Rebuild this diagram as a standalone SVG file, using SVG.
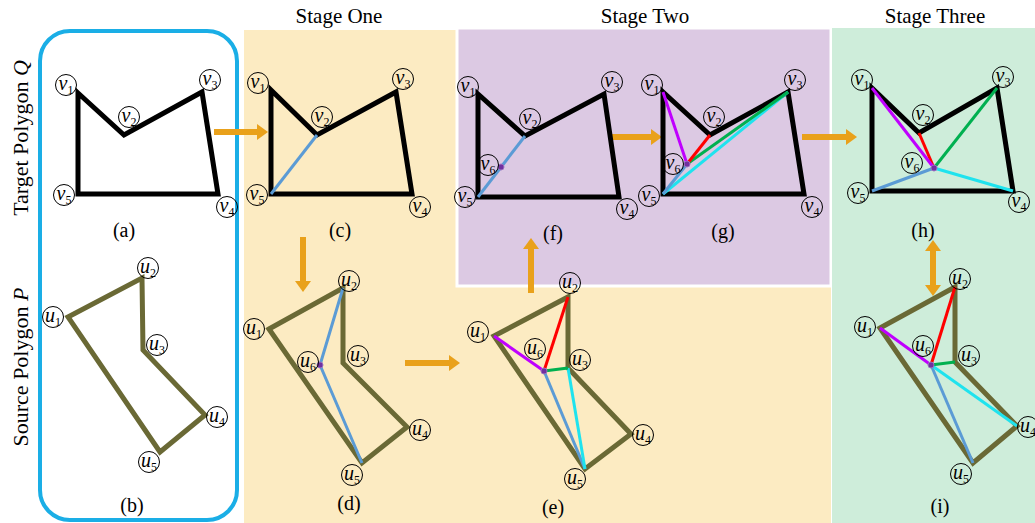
<svg xmlns="http://www.w3.org/2000/svg" width="1035" height="523" viewBox="0 0 1035 523">
<defs>
<style>
.tg{fill:none;stroke:#000;stroke-width:5;stroke-linejoin:miter}
.sp{fill:none;stroke:#6A6935;stroke-width:5;stroke-linejoin:miter}
.ln{stroke-width:3;stroke-linecap:butt;fill:none}
.bl{stroke:#5B9BD5}.rd{stroke:#FF0000}.gr{stroke:#00B050}.mg{stroke:#BF00FF}.cy{stroke:#1FE3EE}
.dot{fill:#7030A0;stroke:#9A6FC0;stroke-width:1}
.lc{fill:none;stroke:#000;stroke-width:1}
.lt{font-family:"Liberation Serif",serif;font-size:20px;font-style:italic;text-anchor:middle;fill:#000}
.sub{font-size:12px;font-style:normal}
.cap{font-family:"Liberation Serif",serif;font-size:20px;text-anchor:middle;fill:#000}
.ttl{font-family:"Liberation Serif",serif;font-size:21px;text-anchor:middle;fill:#000}
.side{font-family:"Liberation Serif",serif;font-size:22px;text-anchor:middle;fill:#000}
.arr{stroke:#E9A11B;stroke-width:6;fill:none}
</style>
<marker id="ah" markerUnits="userSpaceOnUse" markerWidth="12" markerHeight="18" refX="1" refY="9" orient="auto-start-reverse">
<path d="M1,1 L12,9 L1,17 Z" fill="#E9A11B"/>
</marker>
</defs>

<!-- backgrounds -->
<g id="backgrounds">
<rect x="244" y="30" width="587" height="493" fill="#FCEBC2"/>
<rect x="457" y="28" width="374" height="258" fill="#DCC9E3" stroke="#FFFFFF" stroke-width="3"/>
<rect x="832" y="28" width="203" height="495" fill="#CEEDDA"/>
<rect x="40" y="31" width="197" height="489" rx="30" ry="30" fill="none" stroke="#1AAEE6" stroke-width="4"/>
</g>

<g id="titles">
<text class="ttl" x="339" y="23">Stage One</text>
<text class="ttl" x="645" y="23">Stage Two</text>
<text class="ttl" x="935" y="23">Stage Three</text>
<text class="side" transform="translate(28,138) rotate(-90)">Target Polygon <tspan font-style="italic">Q</tspan></text>
<text class="side" transform="translate(28,367) rotate(-90)">Source Polygon <tspan font-style="italic">P</tspan></text>
</g>

<!-- connectors -->
<g id="connectors">
<line class="arr" x1="214" y1="132" x2="257" y2="132" marker-end="url(#ah)"/>
<line class="arr" x1="303" y1="237" x2="303" y2="281" marker-end="url(#ah)"/>
<line class="arr" x1="405" y1="363" x2="449" y2="363" marker-end="url(#ah)"/>
<line class="arr" x1="531" y1="293" x2="531" y2="249" marker-end="url(#ah)"/>
<line class="arr" x1="612" y1="137" x2="651" y2="137" marker-end="url(#ah)"/>
<line class="arr" x1="802" y1="137" x2="846" y2="137" marker-end="url(#ah)"/>
<line class="arr" x1="933" y1="251" x2="933" y2="285" marker-start="url(#ah)" marker-end="url(#ah)"/>
</g>

<!-- (a) -->
<g id="node-a">
<polygon class="tg" points="78,93 124,135 202,92 218,194 78,194"/>
<circle class="lc" cx="66" cy="85" r="10.5"/><text class="lt" x="66" y="90">v<tspan class="sub" dy="4">1</tspan></text>
<circle class="lc" cx="129" cy="117" r="10.5"/><text class="lt" x="129" y="122">v<tspan class="sub" dy="4">2</tspan></text>
<circle class="lc" cx="210" cy="80" r="10.5"/><text class="lt" x="210" y="85">v<tspan class="sub" dy="4">3</tspan></text>
<circle class="lc" cx="227" cy="207" r="10.5"/><text class="lt" x="227" y="212">v<tspan class="sub" dy="4">4</tspan></text>
<circle class="lc" cx="64" cy="195" r="10.5"/><text class="lt" x="64" y="200">v<tspan class="sub" dy="4">5</tspan></text>
<text class="cap" x="124" y="237">(a)</text>
</g>

<!-- (b) -->
<g id="node-b">
<polygon class="sp" points="68,317 142,278 143,350 205,415 160,452"/>
<circle class="lc" cx="53" cy="317" r="10.5"/><text class="lt" x="53" y="322">u<tspan class="sub" dy="4">1</tspan></text>
<circle class="lc" cx="148" cy="268" r="10.5"/><text class="lt" x="148" y="273">u<tspan class="sub" dy="4">2</tspan></text>
<circle class="lc" cx="157" cy="345" r="10.5"/><text class="lt" x="157" y="350">u<tspan class="sub" dy="4">3</tspan></text>
<circle class="lc" cx="217" cy="417" r="10.5"/><text class="lt" x="217" y="422">u<tspan class="sub" dy="4">4</tspan></text>
<circle class="lc" cx="149" cy="462" r="10.5"/><text class="lt" x="149" y="467">u<tspan class="sub" dy="4">5</tspan></text>
<text class="cap" x="132" y="512">(b)</text>
</g>

<!-- (c) -->
<g id="node-c">
<polygon class="tg" points="271,90 317,135 396,92 412,194 271,194"/>
<line class="ln bl" x1="271" y1="194" x2="317" y2="135"/>
<circle class="lc" cx="258" cy="83" r="10.5"/><text class="lt" x="258" y="88">v<tspan class="sub" dy="4">1</tspan></text>
<circle class="lc" cx="322" cy="117" r="10.5"/><text class="lt" x="322" y="122">v<tspan class="sub" dy="4">2</tspan></text>
<circle class="lc" cx="403" cy="79" r="10.5"/><text class="lt" x="403" y="84">v<tspan class="sub" dy="4">3</tspan></text>
<circle class="lc" cx="420" cy="207" r="10.5"/><text class="lt" x="420" y="212">v<tspan class="sub" dy="4">4</tspan></text>
<circle class="lc" cx="257" cy="195" r="10.5"/><text class="lt" x="257" y="200">v<tspan class="sub" dy="4">5</tspan></text>
<text class="cap" x="340" y="237">(c)</text>
</g>

<!-- (d) -->
<g id="node-d">
<polygon class="sp" points="269,329 343,288 343,363 407,427 362,463"/>
<polyline class="ln bl" points="343,288 320,365 362,463"/>
<circle class="dot" cx="320" cy="365" r="3"/>
<circle class="lc" cx="254" cy="329" r="10.5"/><text class="lt" x="254" y="334">u<tspan class="sub" dy="4">1</tspan></text>
<circle class="lc" cx="349" cy="281" r="10.5"/><text class="lt" x="349" y="286">u<tspan class="sub" dy="4">2</tspan></text>
<circle class="lc" cx="358" cy="356" r="10.5"/><text class="lt" x="358" y="361">u<tspan class="sub" dy="4">3</tspan></text>
<circle class="lc" cx="420" cy="430" r="10.5"/><text class="lt" x="420" y="435">u<tspan class="sub" dy="4">4</tspan></text>
<circle class="lc" cx="352" cy="475" r="10.5"/><text class="lt" x="352" y="480">u<tspan class="sub" dy="4">5</tspan></text>
<circle class="lc" cx="308" cy="362" r="10.5"/><text class="lt" x="308" y="367">u<tspan class="sub" dy="4">6</tspan></text>
<text class="cap" x="349" y="510">(d)</text>
</g>

<!-- (e) -->
<g id="node-e">
<polygon class="sp" points="494,336 568,297 568,368 631,434 585,469"/>
<line class="ln bl" x1="544" y1="371" x2="585" y2="469"/>
<line class="ln cy" x1="568" y1="368" x2="585" y2="469"/>
<line class="ln gr" x1="544" y1="371" x2="568" y2="368"/>
<line class="ln rd" x1="568" y1="297" x2="544" y2="371"/>
<line class="ln mg" x1="494" y1="336" x2="544" y2="371"/>
<circle class="dot" cx="544" cy="371" r="3"/>
<circle class="lc" cx="478" cy="332" r="10.5"/><text class="lt" x="478" y="337">u<tspan class="sub" dy="4">1</tspan></text>
<circle class="lc" cx="570" cy="283" r="10.5"/><text class="lt" x="570" y="288">u<tspan class="sub" dy="4">2</tspan></text>
<circle class="lc" cx="580" cy="360" r="10.5"/><text class="lt" x="580" y="365">u<tspan class="sub" dy="4">3</tspan></text>
<circle class="lc" cx="643" cy="435" r="10.5"/><text class="lt" x="643" y="440">u<tspan class="sub" dy="4">4</tspan></text>
<circle class="lc" cx="575" cy="479" r="10.5"/><text class="lt" x="575" y="484">u<tspan class="sub" dy="4">5</tspan></text>
<circle class="lc" cx="535" cy="349" r="10.5"/><text class="lt" x="535" y="354">u<tspan class="sub" dy="4">6</tspan></text>
<text class="cap" x="553" y="514">(e)</text>
</g>

<!-- (f) -->
<g id="node-f">
<polygon class="tg" points="478,94 525,136 604,94 619,197 478,197"/>
<line class="ln bl" x1="478" y1="197" x2="525" y2="136"/>
<circle class="dot" cx="501" cy="167" r="3"/>
<circle class="lc" cx="468" cy="87" r="10.5"/><text class="lt" x="468" y="92">v<tspan class="sub" dy="4">1</tspan></text>
<circle class="lc" cx="530" cy="119" r="10.5"/><text class="lt" x="530" y="124">v<tspan class="sub" dy="4">2</tspan></text>
<circle class="lc" cx="612" cy="82" r="10.5"/><text class="lt" x="612" y="87">v<tspan class="sub" dy="4">3</tspan></text>
<circle class="lc" cx="627" cy="209" r="10.5"/><text class="lt" x="627" y="214">v<tspan class="sub" dy="4">4</tspan></text>
<circle class="lc" cx="465" cy="197" r="10.5"/><text class="lt" x="465" y="202">v<tspan class="sub" dy="4">5</tspan></text>
<circle class="lc" cx="488" cy="165" r="10.5"/><text class="lt" x="488" y="170">v<tspan class="sub" dy="4">6</tspan></text>
<text class="cap" x="553" y="240">(f)</text>
</g>

<!-- (g) -->
<g id="node-g">
<polygon class="tg" points="663,92 710,135 788,92 804,194 663,194"/>
<line class="ln cy" x1="663" y1="194" x2="788" y2="92"/>
<line class="ln bl" x1="663" y1="194" x2="687" y2="164"/>
<line class="ln gr" x1="687" y1="164" x2="788" y2="92"/>
<line class="ln rd" x1="710" y1="135" x2="687" y2="164"/>
<line class="ln mg" x1="663" y1="92" x2="687" y2="164"/>
<circle class="dot" cx="687" cy="164" r="3"/>
<circle class="lc" cx="652" cy="85" r="10.5"/><text class="lt" x="652" y="90">v<tspan class="sub" dy="4">1</tspan></text>
<circle class="lc" cx="714" cy="117" r="10.5"/><text class="lt" x="714" y="122">v<tspan class="sub" dy="4">2</tspan></text>
<circle class="lc" cx="795" cy="80" r="10.5"/><text class="lt" x="795" y="85">v<tspan class="sub" dy="4">3</tspan></text>
<circle class="lc" cx="812" cy="207" r="10.5"/><text class="lt" x="812" y="212">v<tspan class="sub" dy="4">4</tspan></text>
<circle class="lc" cx="649" cy="196" r="10.5"/><text class="lt" x="649" y="201">v<tspan class="sub" dy="4">5</tspan></text>
<circle class="lc" cx="673" cy="164" r="10.5"/><text class="lt" x="673" y="169">v<tspan class="sub" dy="4">6</tspan></text>
<text class="cap" x="723" y="238">(g)</text>
</g>

<!-- (h) -->
<g id="node-h">
<polygon class="tg" points="872,88 919,133 997,88 1013,191 872,191"/>
<line class="ln bl" x1="872" y1="191" x2="934" y2="168"/>
<line class="ln cy" x1="1013" y1="191" x2="934" y2="168"/>
<line class="ln gr" x1="997" y1="88" x2="934" y2="168"/>
<line class="ln rd" x1="919" y1="133" x2="934" y2="168"/>
<line class="ln mg" x1="872" y1="88" x2="934" y2="168"/>
<circle class="dot" cx="934" cy="168" r="3"/>
<circle class="lc" cx="862" cy="80" r="10.5"/><text class="lt" x="862" y="85">v<tspan class="sub" dy="4">1</tspan></text>
<circle class="lc" cx="923" cy="115" r="10.5"/><text class="lt" x="923" y="120">v<tspan class="sub" dy="4">2</tspan></text>
<circle class="lc" cx="1003" cy="77" r="10.5"/><text class="lt" x="1003" y="82">v<tspan class="sub" dy="4">3</tspan></text>
<circle class="lc" cx="1019" cy="202" r="10.5"/><text class="lt" x="1019" y="207">v<tspan class="sub" dy="4">4</tspan></text>
<circle class="lc" cx="858" cy="193" r="10.5"/><text class="lt" x="858" y="198">v<tspan class="sub" dy="4">5</tspan></text>
<circle class="lc" cx="912" cy="163" r="10.5"/><text class="lt" x="912" y="168">v<tspan class="sub" dy="4">6</tspan></text>
<text class="cap" x="923" y="237">(h)</text>
</g>

<!-- (i) -->
<g id="node-i">
<polygon class="sp" points="880,328 955,287 955,362 1017,426 973,463"/>
<line class="ln bl" x1="931" y1="365" x2="973" y2="463"/>
<line class="ln cy" x1="931" y1="365" x2="1017" y2="426"/>
<line class="ln gr" x1="931" y1="365" x2="955" y2="362"/>
<line class="ln rd" x1="955" y1="287" x2="931" y2="365"/>
<line class="ln mg" x1="880" y1="328" x2="931" y2="365"/>
<circle class="dot" cx="931" cy="365" r="3"/>
<circle class="lc" cx="865" cy="327" r="10.5"/><text class="lt" x="865" y="332">u<tspan class="sub" dy="4">1</tspan></text>
<circle class="lc" cx="960" cy="279" r="10.5"/><text class="lt" x="960" y="284">u<tspan class="sub" dy="4">2</tspan></text>
<circle class="lc" cx="969" cy="356" r="10.5"/><text class="lt" x="969" y="361">u<tspan class="sub" dy="4">3</tspan></text>
<circle class="lc" cx="1028" cy="427" r="10.5"/><text class="lt" x="1028" y="432">u<tspan class="sub" dy="4">4</tspan></text>
<circle class="lc" cx="961" cy="474" r="10.5"/><text class="lt" x="961" y="479">u<tspan class="sub" dy="4">5</tspan></text>
<circle class="lc" cx="923" cy="346" r="10.5"/><text class="lt" x="923" y="351">u<tspan class="sub" dy="4">6</tspan></text>
<text class="cap" x="940" y="513">(i)</text>
</g>
</svg>
